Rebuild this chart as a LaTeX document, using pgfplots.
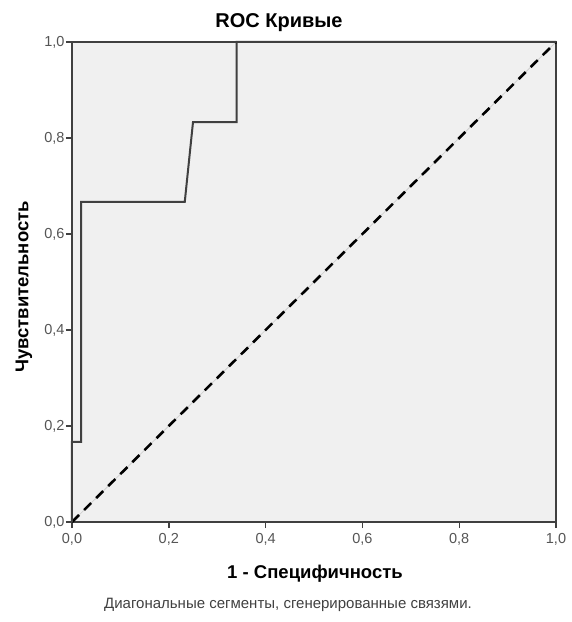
\documentclass[border=0pt]{standalone}
\usepackage{fontspec}
\setmainfont{Liberation Sans}
\usepackage{pgfplots}
\pgfplotsset{compat=1.18}
\definecolor{bgc}{HTML}{F0F0F0}
\definecolor{boxc}{HTML}{404040}
\definecolor{tickc}{HTML}{555555}
\begin{document}
\begin{tikzpicture}[x=1pt,y=1pt]
\useasboundingbox (0,0) rectangle (572,622);
\begin{axis}[
  at={(72pt,100pt)}, anchor=south west,
  width=484pt, height=480pt, scale only axis,
  xmin=0, xmax=1, ymin=0, ymax=1,
  axis background/.style={fill=bgc},
  axis line style={boxc, line width=1.8pt},
  xtick={0,0.2,0.4,0.6,0.8,1}, ytick={0,0.2,0.4,0.6,0.8,1},
  tick align=outside, xtick pos=bottom, ytick pos=left,
  major tick length=6pt,
  tick style={boxc, line width=1.4pt},
  /pgf/number format/assume math mode=true,
  /pgf/number format/use comma,
  /pgf/number format/fixed, /pgf/number format/fixed zerofill,
  /pgf/number format/precision=1,
  ticklabel style={font=\fontsize{14.5}{16}\selectfont, text=tickc},
  xticklabel style={yshift=-2pt},
  yticklabel style={xshift=2pt},
  clip=false,
]
\addplot[color=black!18, line width=0.8pt] coordinates {(0,0) (1,1)};
\addplot[black, line width=2.6pt, dash pattern=on 10pt off 7pt] coordinates {(0,0) (1,1)};
\addplot[color=boxc, line width=2pt, line join=miter] coordinates {
(0,0) (0,0.167) (0.019,0.167) (0.019,0.667) (0.233,0.667) (0.25,0.833) (0.34,0.833) (0.34,1) (1,1)};
\end{axis}
\node[font=\bfseries\fontsize{20}{22}\selectfont] at (279,599) {ROC Кривые};
\node[font=\bfseries\fontsize{18.5}{20}\selectfont, rotate=90] at (24,335) {Чувствительность};
\node[font=\bfseries\fontsize{18.5}{20}\selectfont] at (315,48) {1 - Специфичность};
\node[font=\fontsize{15}{17}\selectfont, text=black!75] at (288,17) {Диагональные сегменты, сгенерированные связями.};
\end{tikzpicture}
\end{document}
